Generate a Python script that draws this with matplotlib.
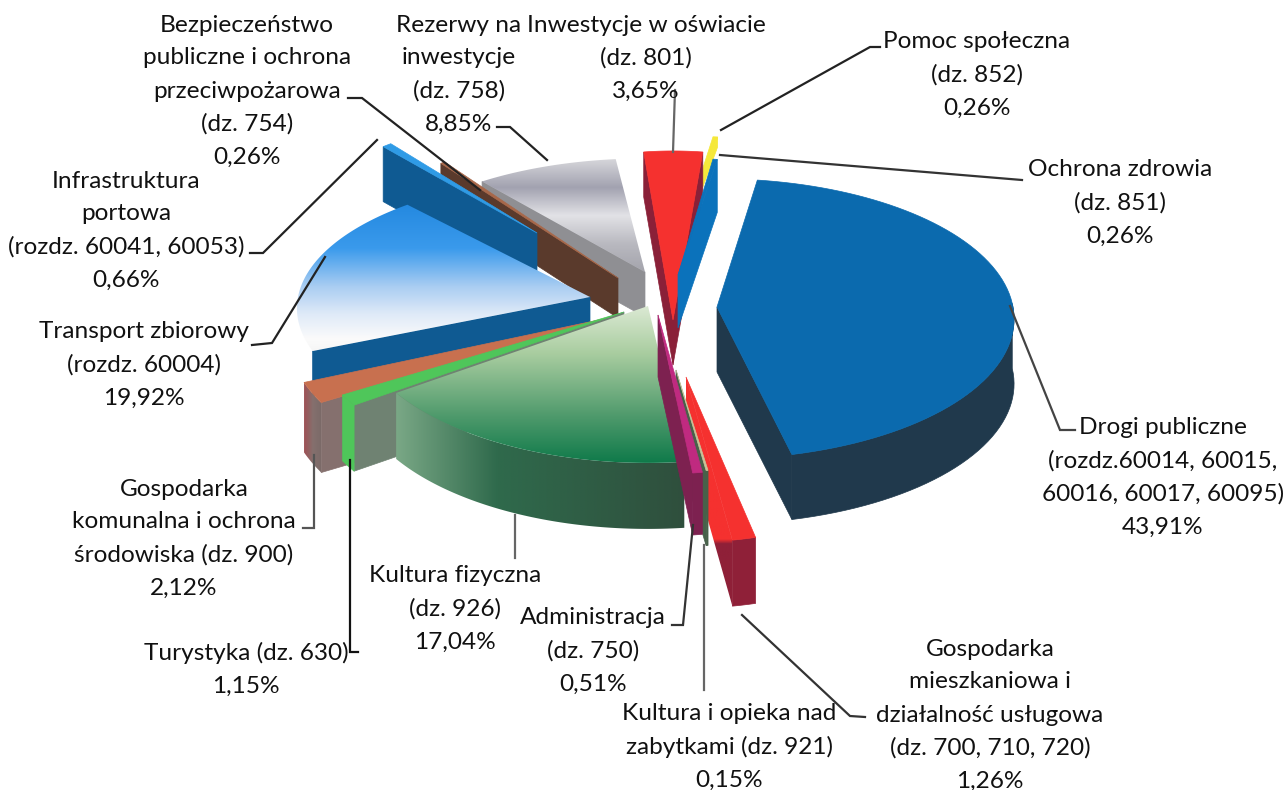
"""Exploded 3D pie of investment spending, drawn as extruded wedges in pixel space."""
import numpy as np
import matplotlib

matplotlib.use("Agg")
import matplotlib.pyplot as plt  # noqa: E402
from matplotlib.colors import LinearSegmentedColormap  # noqa: E402
from matplotlib.patches import Polygon  # noqa: E402

plt.rcParams["font.family"] = ["Lato", "DejaVu Sans"]

# data, clockwise from the top of the largest slice
NAMES = ["Drogi", "Mieszk", "Zabytki", "Admin", "KFiz", "Tur", "Kom", "Transp",
         "Port", "Bezp", "Rez", "Osw", "Pomoc", "Zdrowie"]
VALUES = [43.91, 1.26, 0.15, 0.51, 17.04, 1.15, 2.12, 19.92, 0.66, 0.26, 8.85, 3.65, 0.26, 0.26]
LABELS = [
    ["Drogi publiczne", "(rozdz.60014, 60015,", "60016, 60017, 60095)"],
    ["Gospodarka", "mieszkaniowa i", "działalność usługowa", "(dz. 700, 710, 720)"],
    ["Kultura i opieka nad", "zabytkami (dz. 921)"],
    ["Administracja", "(dz. 750)"],
    ["Kultura fizyczna", "(dz. 926)"],
    ["Turystyka (dz. 630)"],
    ["Gospodarka", "komunalna i ochrona", "środowiska (dz. 900)"],
    ["Transport zbiorowy", "(rozdz. 60004)"],
    ["Infrastruktura", "portowa", "(rozdz. 60041, 60053)"],
    ["Bezpieczeństwo", "publiczne i ochrona", "przeciwpożarowa", "(dz. 754)"],
    ["Rezerwy na", "inwestycje", "(dz. 758)"],
    ["Inwestycje w oświacie", "(dz. 801)"],
    ["Pomoc społeczna", "(dz. 852)"],
    ["Ochrona zdrowia", "(dz. 851)"],
]

# layout: label centre x, first line y
LABEL_POS = [(1163, 428), (990, 649), (729, 714), (593, 618), (455, 576), (246, 653), (184, 489),
             (144, 332), (126, 181), (247, 25), (459, 25), (646, 25), (977, 42), (1120, 170)]
LINE_STEP = 33.0

START_DEG = 8.5
PERSP = 0.085
# explosion of each slice: apex x, apex y, radius, vertical squash, extrusion
APEX_X = [717, 686, 676, 658, 648, 624, 608, 590, 537, 618, 645, 673, 680, 678]
APEX_Y = [307, 377, 370, 315, 306, 312, 318, 297, 233, 278, 272, 320, 239, 275]
RADIUS = [296, 275, 190, 280, 293, 314, 320, 292, 246, 298, 280, 280, 310, 288]
SQUASH = [0.47, 0.55, 0.49, 0.52, 0.49, 0.49, 0.49, 0.45, 0.50, 0.53, 0.44, 0.655, 0.36, 0.44]
DEPTH = [65, 66, 75, 62, 66, 66, 70, 45, 55, 40, 45, 45, 10, 53]
RIM = [True, True, True, True, True, True, True, False, True, True, True, True, True, True]
DRAW_ORDER = [10, 9, 8, 7, 6, 5, 4, 12, 11, 13, 1, 2, 3, 0]

TOP = {
    "Drogi": "#0b6aae", "Mieszk": "#f5312f", "Zabytki": "#c9c49a", "Admin": "#c02a80",
    "KFiz": ("v", [(0, "#dbe9d3"), (0.3, "#a9cda0"), (0.7, "#4f9a6c"), (1, "#0f7a4a")]),
    "Tur": "#4fc65a", "Kom": "#c8704f",
    "Transp": ("v", [(0, "#2489e0"), (0.3, "#3a9aec"), (0.56, "#a9cdf2"),
                     (0.75, "#dfeaf8"), (0.92, "#fbfbfb"), (1, "#f6f6f6")]),
    "Port": "#2f9be6", "Bezp": "#a8684a",
    "Rez": ("v", [(0, "#d6d6da"), (0.25, "#a2a2b0"), (0.5, "#e2e2e6"), (0.75, "#b9b9c0"), (1, "#a4a4ac")]),
    "Osw": "#f5312f", "Pomoc": "#f5e83a", "Zdrowie": "#0b72bb",
}
WALL = {
    "Drogi": "#20394c", "Mieszk": "#8f2038", "Zabytki": "#47614a", "Admin": "#7d2150",
    "KFiz": ("h", [(0, "#7aa886"), (0.35, "#2f6a4c"), (1, "#2f4f3d")]),
    "Tur": "#4fc65a", "Kom": ("h", [(0, "#a05054"), (0.5, "#85706e"), (1, "#7a6a68")]),
    "Transp": "#0f5a92", "Port": "#0f5a92", "Bezp": "#5a3a2c",
    "Rez": "#8f8f93", "Osw": "#8a2038", "Pomoc": "#f5e83a", "Zdrowie": "#0b72bb",
}
# cut faces that differ from the rim colour
CUT = {
    "Tur": "#6f8272",
    "Kom": "#85706e",
    "KFiz": "#2f4f3d",
    "Mieszk": ("v", [(0, "#f5312f"), (0.71, "#f5312f"), (0.73, "#8f2038"), (1, "#8f2038")]),
}
LEADERS = [
    ([1075, 1060, 1010], [430, 430, 306], "#444444"),
    ([742, 850, 865], [615, 716, 717], "#333333"),
    ([704, 704], [545, 690], "#666666"),
    ([672, 683, 693], [625, 625, 525], "#333333"),
    ([515, 515], [515, 558], "#666666"),
    ([350, 350, 358], [460, 652, 652], "#111111"),
    ([303, 314, 314], [528, 528, 455], "#555555"),
    ([252, 272, 325], [345, 343, 257], "#222222"),
    ([250, 263, 377], [253, 253, 140], "#222222"),
    ([348, 362, 480], [98, 98, 190], "#222222"),
    ([497, 510, 547], [127, 127, 160], "#222222"),
    ([675, 673], [90, 152], "#666666"),
    ([880, 870, 721], [47, 47, 130], "#222222"),
    ([1022, 720], [180, 155], "#333333"),
]


def project(i, deg):
    t = np.radians(deg)
    s = 1 / (1 + PERSP * np.cos(t))
    x = APEX_X[i] + RADIUS[i] * np.sin(t) * s
    y = APEX_Y[i] - RADIUS[i] * SQUASH[i] * np.cos(t) * s
    return np.column_stack([x, y])


def paint(ax, pts, spec, z):
    if isinstance(spec, str):
        ax.add_patch(Polygon(pts, closed=True, fc=spec, ec=spec, lw=0.5, zorder=z))
        return
    mode, stops = spec
    cmap = LinearSegmentedColormap.from_list("g", stops)
    grad = np.linspace(0, 1, 256)
    grad = grad[:, None] if mode == "v" else grad[None, :]
    x0, y0 = pts.min(axis=0)
    x1, y1 = pts.max(axis=0)
    im = ax.imshow(grad, cmap=cmap, extent=(x0, x1, y1, y0), aspect="auto", zorder=z,
                   interpolation="bilinear")
    clip = Polygon(pts, closed=True, transform=ax.transData)
    im.set_clip_path(clip)


def wedge(ax, i, a0, a1, z):
    name = NAMES[i]
    d = DEPTH[i]
    arc_deg = np.linspace(a0, a1, 80)
    arc = project(i, arc_deg)
    apex = np.array([APEX_X[i], APEX_Y[i]], dtype=float)
    drop = np.array([0, d])
    wall = WALL[name]
    cut = CUT.get(name, wall)
    # the cut faces that look at the viewer: the wedge top lies above their edge
    for corner, other in ((arc[0], arc[-1]), (arc[-1], arc[0])):
        edge = corner - apex
        at_x = apex[1] + edge[1] * (other[0] - apex[0]) / edge[0] if abs(edge[0]) > 1e-6 else other[1]
        if other[1] < at_x:
            paint(ax, np.array([apex, corner, corner + drop, apex + drop]), cut, z)
    # outer wall, front half of the rim only
    front = np.cos(np.radians(arc_deg)) < 0.05
    if RIM[i] and front.any():
        rim = arc[front]
        paint(ax, np.vstack([rim, (rim + drop)[::-1]]), wall, z + 0.1)
    paint(ax, np.vstack([apex, arc]), TOP[name], z + 0.2)


fig = plt.figure(figsize=(12.84, 7.9), dpi=100)
ax = fig.add_axes([0, 0, 1, 1])

shares = np.array(VALUES) / sum(VALUES) * 360
edges = START_DEG + np.concatenate([[0], np.cumsum(shares)])
for rank, i in enumerate(DRAW_ORDER):
    wedge(ax, i, edges[i], edges[i + 1], 2 + rank)

for xs, ys, col in LEADERS:
    ax.plot(xs, ys, color=col, lw=1.6, zorder=30, solid_joinstyle="miter")

for lines, val, (xc, y0) in zip(LABELS, VALUES, LABEL_POS):
    rows = lines + [f"{val:.2f}%".replace(".", ",")]
    for k, row in enumerate(rows):
        ax.text(xc, y0 + k * LINE_STEP, row, ha="center", va="center", fontsize=17.6,
                color="#111111", zorder=40)

ax.set_xlim(0, 1284)
ax.set_ylim(790, 0)
ax.axis("off")
fig.savefig("out.png", dpi=100)
